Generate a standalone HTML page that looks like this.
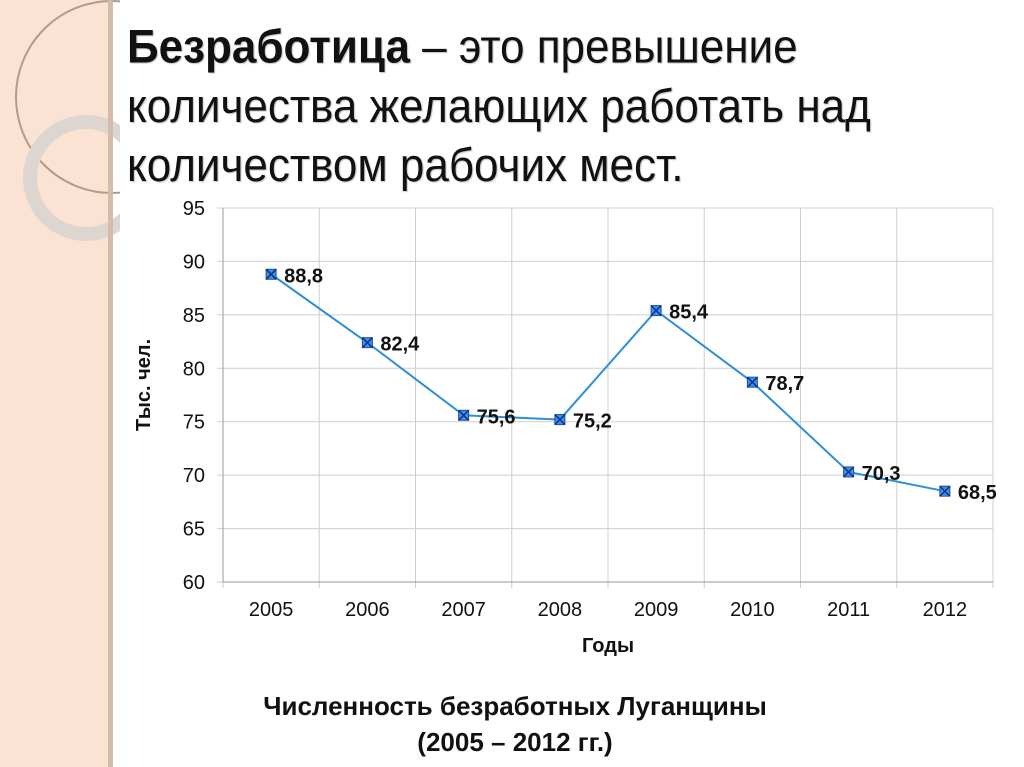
<!DOCTYPE html>
<html><head><meta charset="utf-8">
<style>
body{margin:0;width:1024px;height:767px;overflow:hidden;background:#fff;font-family:"Liberation Sans","DejaVu Sans",sans-serif;position:relative}
#band{position:absolute;left:0;top:0;width:108px;height:767px;background:#fbe3d3}
#edge{position:absolute;left:108px;top:0;width:5px;height:767px;background:#d5bcaa}
#title{position:absolute;left:127px;top:17px;font-size:44px;line-height:55px;color:#111;margin:0;font-weight:normal;transform:scaleY(1.08);transform-origin:0 0;text-shadow:1px 1px 1px rgba(0,0,0,0.25)}
#title b{font-weight:bold}
#cap{position:absolute;left:160px;top:688px;width:710px;text-align:center;font-size:26px;font-weight:bold;line-height:36px;color:#111}
svg{position:absolute;left:0;top:0}
</style></head><body>
<div id="band"></div>
<svg width="120" height="767">
<circle cx="112" cy="97" r="96" fill="none" stroke="#b09c8a" stroke-width="2"/>
<circle cx="86" cy="178" r="56" fill="none" stroke="#ddd6d0" stroke-width="14"/>
</svg>
<div id="edge"></div>
<h1 id="title"><b>Безработица</b> – это превышение<br>количества желающих работать над<br>количеством рабочих мест.</h1>
<svg id="chart" width="1024" height="767"></svg>
<div id="cap">Численность безработных Луганщины<br>(2005 – 2012 гг.)</div>
<script>
const categories=["2005","2006","2007","2008","2009","2010","2011","2012"];
const values=[88.8,82.4,75.6,75.2,85.4,78.7,70.3,68.5];
const labels=["88,8","82,4","75,6","75,2","85,4","78,7","70,3","68,5"];
const yTicks=[60,65,70,75,80,85,90,95];
const svg=document.getElementById('chart');
const NS='http://www.w3.org/2000/svg';
const L=223,R=993,T=208,B=582,yMin=60,yMax=95;
const cw=(R-L)/categories.length;
const x=i=>L+cw*(i+0.5);
const y=v=>B-(v-yMin)/(yMax-yMin)*(B-T);
function mk(t,a){const e=document.createElementNS(NS,t);for(const k in a)e.setAttribute(k,a[k]);svg.appendChild(e);return e;}
yTicks.forEach(t=>{
 const g=mk('line',{x1:L-6,x2:R,y1:y(t),y2:y(t),stroke:'#cfcfcf','stroke-width':1});
 
 
 const tx=mk('text',{x:L-18,y:y(t)+7,'text-anchor':'end','font-size':20,fill:'#111'});
 tx.textContent=t;
 
 
});
for(let i=0;i<=categories.length;i++){
 const g=mk('line',{x1:L+cw*i,x2:L+cw*i,y1:T,y2:B+6,stroke:'#cfcfcf','stroke-width':1});
 
 
}
const ax=mk('line',{x1:L,x2:L,y1:T,y2:B,stroke:'#999','stroke-width':1});


const bx=mk('line',{x1:L,x2:R,y1:B,y2:B,stroke:'#999','stroke-width':1});


categories.forEach((c,i)=>{
 const tx=mk('text',{x:x(i),y:B+34,'text-anchor':'middle','font-size':20,fill:'#111'});
 tx.textContent=c;
 
 
});
const pl=mk('polyline',{points:values.map((v,i)=>x(i)+','+y(v)).join(' '),fill:'none',stroke:'#2e8fd4','stroke-width':2});


values.forEach((v,i)=>{
 const cx=x(i),cy=y(v);
 const m=mk('rect',{x:cx-5,y:cy-5,width:10,height:10,fill:'#3a8ef0',stroke:'#1f4fa0','stroke-width':1});
 
 
 mk('path',{d:`M${cx-5} ${cy-5}L${cx+5} ${cy+5}M${cx+5} ${cy-5}L${cx-5} ${cy+5}`,stroke:'#0a2a70','stroke-width':1.3});
 const tx=mk('text',{x:cx+13,y:cy+8,'font-size':20,'font-weight':'bold',fill:'#111'});
 tx.textContent=labels[i];
 
 
});
const xt=mk('text',{x:(L+R)/2,y:652,'text-anchor':'middle','font-size':20,'font-weight':'bold',fill:'#111'});
xt.textContent='Годы';


const yt=mk('text',{x:0,y:0,'text-anchor':'middle','font-size':20,'font-weight':'bold',fill:'#111',transform:'translate(150,385) rotate(-90)'});
yt.textContent='Тыс. чел.';


</script>
</body></html>
